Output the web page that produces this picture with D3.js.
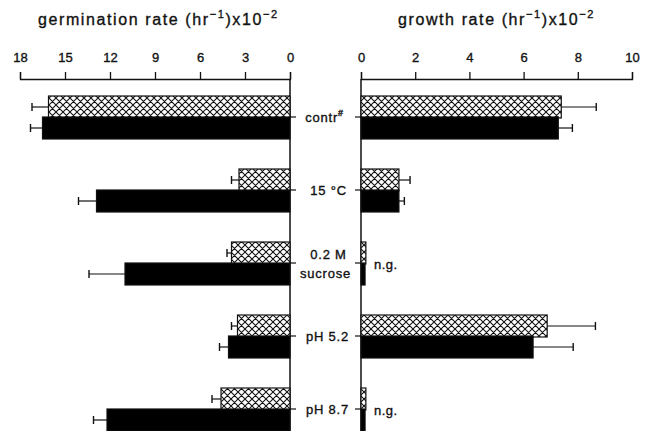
<!DOCTYPE html>
<html>
<head>
<meta charset="utf-8">
<script src="https://cdn.jsdelivr.net/npm/d3@7"></script>
<style>
  body { margin: 0; background: #fff; }
  svg { font-family: "Liberation Sans", Arial, sans-serif; }
  svg text { stroke: #111; stroke-width: 0.35px; }
</style>
</head>
<body>
<div id="chart"></div>
<script>
// categories, top to bottom
const categories = ["contr", "15C", "sucrose", "pH5.2", "pH8.7"];

// germination rate (hr^-1) x10^-2
const germHatched    = [16.1, 3.4, 3.9, 3.5, 4.6];
const germHatchedErr = [1.1, 0.5, 0.3, 0.4, 0.6];
const germSolid      = [16.5, 12.9, 11.0, 4.1, 12.2];
const germSolidErr   = [0.8, 1.2, 2.4, 0.6, 0.9];

// growth rate (hr^-1) x10^-2
const growHatched    = [7.39, 1.4, 0.18, 6.87, 0.18];
const growHatchedErr = [1.29, 0.41, 0, 1.78, 0];
const growSolid      = [7.28, 1.4, 0.15, 6.35, 0.15];
const growSolidErr   = [0.52, 0.2, 0, 1.48, 0];

const germTicks = [18, 15, 12, 9, 6, 3, 0];
const growTicks = [0, 2, 4, 6, 8, 10];
const noGrowth = ["sucrose", "pH8.7"];

const width = 646, height = 431;
const axisY = 79;
const barH = 22;

const svg = d3.select("#chart").append("svg")
    .attr("width", width)
    .attr("height", height);

// cross-hatch pattern
const pat = svg.append("defs").append("pattern")
    .attr("id", "hatch")
    .attr("patternUnits", "userSpaceOnUse")
    .attr("width", 7).attr("height", 7);
pat.append("rect").attr("width", 7).attr("height", 7).attr("fill", "#fff");
pat.append("path")
    .attr("d", "M0,0 L7,7 M7,0 L0,7 M-1,6 L1,8 M6,-1 L8,1 M6,8 L8,6 M-1,1 L1,-1")
    .attr("stroke", "#111").attr("stroke-width", 1.1);

const xL = d3.scaleLinear().domain([0, 18]).range([290, 20]);
const xR = d3.scaleLinear().domain([0, 10]).range([361, 632]);
const y = d3.scalePoint().domain(categories).range([117, 409]);

// axes
function styleAxis(g) {
    g.select(".domain").attr("stroke", "#111").attr("stroke-width", 1.3);
    g.selectAll(".tick line").attr("stroke", "#111").attr("stroke-width", 1.3);
    g.selectAll(".tick text")
        .attr("font-size", 13)
        .attr("fill", "#111")
        .attr("font-family", "Liberation Sans, Arial, sans-serif");
}

svg.append("g")
    .attr("transform", `translate(0,${axisY})`)
    .call(d3.axisTop(xL).tickValues(germTicks).tickSize(7).tickPadding(10).tickFormat(d3.format("d")))
    .call(styleAxis);

svg.append("g")
    .attr("transform", `translate(0,${axisY})`)
    .call(d3.axisTop(xR).tickValues(growTicks).tickSize(7).tickPadding(10).tickFormat(d3.format("d")))
    .call(styleAxis);

// vertical baselines
[xL(0), xR(0)].forEach(x => {
    svg.append("line")
        .attr("x1", x).attr("x2", x)
        .attr("y1", axisY).attr("y2", height)
        .attr("stroke", "#111").attr("stroke-width", 1.5);
});

// category ticks in the middle gap
svg.append("g").selectAll("line.lt")
    .data(categories).join("line")
    .attr("x1", xL(0)).attr("x2", xL(0) + 6)
    .attr("y1", d => y(d)).attr("y2", d => y(d))
    .attr("stroke", "#111").attr("stroke-width", 1.2);
svg.append("g").selectAll("line.rt")
    .data(categories).join("line")
    .attr("x1", xR(0) - 6).attr("x2", xR(0))
    .attr("y1", d => y(d)).attr("y2", d => y(d))
    .attr("stroke", "#111").attr("stroke-width", 1.2);

// bars + error bars
function drawSeries(x, vals, errs, offset, fill) {
    const g = svg.append("g");
    const rows = categories.map((c, i) => ({ c, v: vals[i], e: errs[i] }));
    g.selectAll("rect").data(rows).join("rect")
        .attr("x", d => Math.min(x(0), x(d.v)))
        .attr("width", d => Math.abs(x(d.v) - x(0)))
        .attr("y", d => y(d.c) + offset)
        .attr("height", barH)
        .attr("fill", fill)
        .attr("stroke", "#111").attr("stroke-width", 1.2);
    const eb = rows.filter(d => d.e > 0);
    g.selectAll("line.err").data(eb).join("line")
        .attr("x1", d => x(d.v)).attr("x2", d => x(d.v + d.e))
        .attr("y1", d => y(d.c) + offset + barH / 2)
        .attr("y2", d => y(d.c) + offset + barH / 2)
        .attr("stroke", "#111").attr("stroke-width", 1.2);
    g.selectAll("line.cap").data(eb).join("line")
        .attr("x1", d => x(d.v + d.e)).attr("x2", d => x(d.v + d.e))
        .attr("y1", d => y(d.c) + offset + barH / 2 - 4)
        .attr("y2", d => y(d.c) + offset + barH / 2 + 4)
        .attr("stroke", "#111").attr("stroke-width", 1.4);
}

drawSeries(xL, germHatched, germHatchedErr, -barH + 1, "url(#hatch)");
drawSeries(xL, germSolid, germSolidErr, 0, "#000");
drawSeries(xR, growHatched, growHatchedErr, -barH + 1, "url(#hatch)");
drawSeries(xR, growSolid, growSolidErr, 0, "#000");

// n.g. labels
svg.append("g").selectAll("text")
    .data(noGrowth).join("text")
    .attr("x", xR(0) + 13)
    .attr("y", d => y(d) + 6)
    .attr("font-size", 13)
    .attr("letter-spacing", 0.5)
    .attr("fill", "#111")
    .text("n.g.");

// category labels
const midX = (xL(0) + xR(0)) / 2;
const lab = svg.append("g")
    .attr("font-size", 13)
    .attr("letter-spacing", 0.8)
    .attr("fill", "#111")
    .attr("text-anchor", "middle");

const t0 = lab.append("text").attr("x", midX - 1).attr("y", y("contr") + 5);
t0.append("tspan").text("contr");
t0.append("tspan").attr("font-size", 9).attr("dy", -6).attr("font-weight", "bold").text("#");

lab.append("text").attr("x", midX + 3).attr("y", y("15C") + 5).text("15 \u00b0C");
lab.append("text").attr("x", midX + 3).attr("y", y("sucrose") - 4).text("0.2 M");
lab.append("text").attr("x", midX).attr("y", y("sucrose") + 15).text("sucrose");
lab.append("text").attr("x", midX + 2).attr("y", y("pH5.2") + 5).text("pH 5.2");
lab.append("text").attr("x", midX + 2).attr("y", y("pH8.7") + 5).text("pH 8.7");

// titles, placed by their left edge
function title(x, main) {
    const t = svg.append("text")
        .attr("x", x).attr("y", 25)
        .attr("font-size", 16)
        .attr("letter-spacing", 1.6)
        .attr("fill", "#111");
    t.append("tspan").text(main + " (hr");
    t.append("tspan").attr("font-size", 11).attr("dy", -7).text("\u22121");
    t.append("tspan").attr("dy", 7).text(")x10");
    t.append("tspan").attr("font-size", 11).attr("dy", -7).text("\u22122");
}
title(38, "germination rate");
title(398, "growth rate");
</script>
</body>
</html>
